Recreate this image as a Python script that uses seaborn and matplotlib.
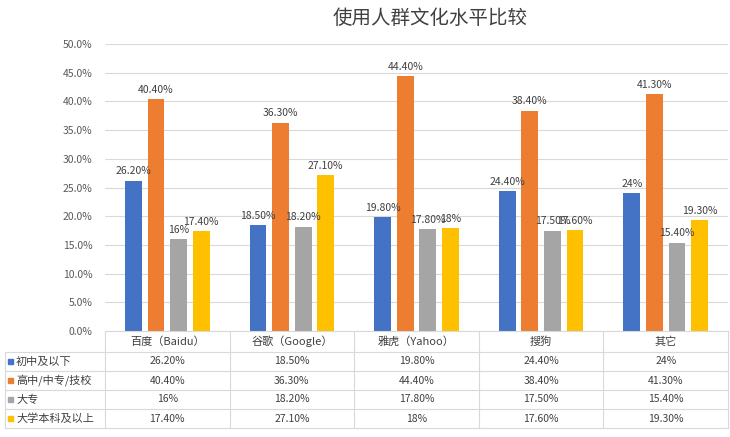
import matplotlib
matplotlib.use("Agg")
import matplotlib.pyplot as plt
import seaborn as sns
import pandas as pd
from matplotlib.lines import Line2D
from matplotlib.patches import Rectangle
from matplotlib.ticker import FuncFormatter, MultipleLocator
from matplotlib.transforms import blended_transform_factory

categories = ["百度（Baidu）", "谷歌（Google）", "雅虎（Yahoo）", "搜狗", "其它"]
series_names = ["初中及以下", "高中/中专/技校", "大专", "大学本科及以上"]
s_junior = [26.2, 18.5, 19.8, 24.4, 24.0]
s_senior = [40.4, 36.3, 44.4, 38.4, 41.3]
s_college = [16.0, 18.2, 17.8, 17.5, 15.4]
s_bachelor = [17.4, 27.1, 18.0, 17.6, 19.3]
series_values = [s_junior, s_senior, s_college, s_bachelor]
colors = ["#4472C4", "#ED7D31", "#A5A5A5", "#FFC000"]
title = "使用人群文化水平比较"

sns.set_theme(style="white")
plt.rcParams["font.family"] = ["Noto Sans CJK SC", "DejaVu Sans"]

def fmt(v):
    return f"{int(round(v))}%" if abs(v - round(v)) < 1e-9 else f"{v:.2f}%"

rows = []
for name, vals in zip(series_names, series_values):
    for c, v in zip(categories, vals):
        rows.append({"cat": c, "series": name, "val": v})
df = pd.DataFrame(rows)

W, H = 730, 437
fig = plt.figure(figsize=(W / 100, H / 100), dpi=100)
left_px, right_px, top_px, bot_px = 105, 728, 44, 331
ax = fig.add_axes([left_px / W, 1 - bot_px / H, (right_px - left_px) / W, (bot_px - top_px) / H])

sns.barplot(data=df, x="cat", y="val", hue="series", hue_order=series_names,
            order=categories, palette=colors, width=0.725, gap=0.25,
            ax=ax, legend=False, saturation=1, linewidth=0, edgecolor="none")

for cont, vals in zip(ax.containers, series_values):
    ax.bar_label(cont, labels=[fmt(v) for v in vals], padding=3,
                 fontsize=7.5, color="#404040")

ax.set_xlim(-0.5, len(categories) - 0.5)
ax.set_ylim(0, 50)
ax.yaxis.set_major_locator(MultipleLocator(5))
ax.yaxis.set_major_formatter(FuncFormatter(lambda v, p: f"{v:.1f}%"))
ax.tick_params(axis="y", labelsize=7.5, colors="#595959", length=0, pad=9)
ax.set_xticks([])
ax.set_xlabel("")
ax.set_ylabel("")
ax.grid(axis="y", color="#D9D9D9", linewidth=0.8)
ax.set_axisbelow(True)
for s in ["left", "right", "top"]:
    ax.spines[s].set_visible(False)
ax.spines["bottom"].set_color("#D9D9D9")
ax.spines["bottom"].set_linewidth(0.8)

fig.text(0.589, 1 - 18 / H, title, ha="center", va="center", fontsize=14, color="#404040")

# data table
tr = blended_transform_factory(ax.transData, fig.transFigure)
def fy(py):
    return 1 - py / H

line_c = "#D9D9D9"
h_lines = [352, 371, 390, 409, 428]
for py in h_lines:
    fig.add_artist(Line2D([5 / W, right_px / W], [fy(py), fy(py)], color=line_c, lw=0.8))
for i in range(len(categories) + 1):
    xb = i - 0.5
    line = Line2D([xb, xb], [fy(bot_px), fy(428)], color=line_c, lw=0.8, transform=tr)
    fig.add_artist(line)
fig.add_artist(Line2D([5 / W, 5 / W], [fy(352), fy(428)], color=line_c, lw=0.8))

header_y = 341.5
for i, c in enumerate(categories):
    fig.text(i, fy(header_y), c, transform=tr, ha="center", va="center",
             fontsize=8, color="#404040")

row_centers = [361.5, 380.5, 399.5, 418.5]
for r, (name, vals, col) in enumerate(zip(series_names, series_values, colors)):
    yc = row_centers[r]
    fig.add_artist(Rectangle((8 / W, fy(yc + 2.5)), 5 / W, 5 / H, color=col,
                             transform=fig.transFigure))
    fig.text(16 / W, fy(yc), name, ha="left", va="center", fontsize=8, color="#404040")
    for i, v in enumerate(vals):
        fig.text(i, fy(yc), fmt(v), transform=tr, ha="center", va="center",
                 fontsize=7.5, color="#404040")

fig.savefig("out.png", dpi=100)
